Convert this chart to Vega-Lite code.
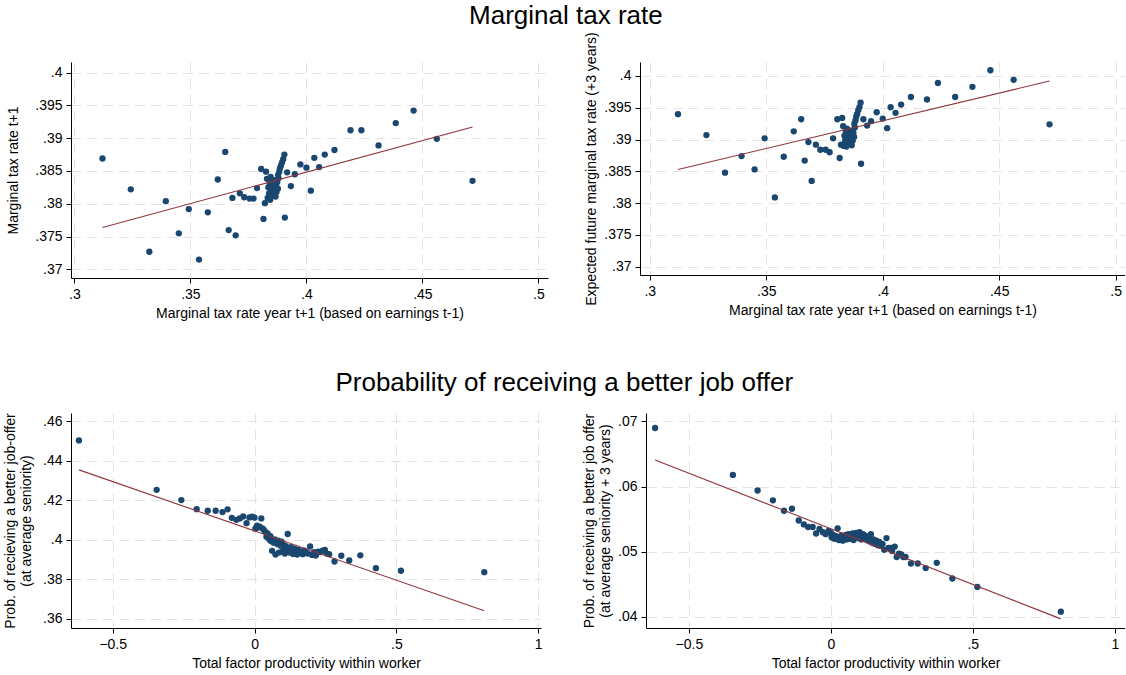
{
  "$schema": "https://vega.github.io/schema/vega-lite/v6.json",
  "background": "white",
  "padding": {"left": 3, "right": 0, "top": 2, "bottom": 2},
  "spacing": 49,
  "config": {
    "font": "Liberation Sans",
    "view": {"stroke": null},
    "axis": {
      "labelFontSize": 14,
      "titleFontSize": 14,
      "titleFontWeight": "normal",
      "labelColor": "#000",
      "titleColor": "#000",
      "domainColor": "#000",
      "domainWidth": 1,
      "tickColor": "#000",
      "tickSize": 5,
      "tickWidth": 1,
      "tickCount": 20,
      "gridColor": "#e4e4e4",
      "gridDash": [10, 6],
      "gridWidth": 1,
      "labelPadding": 4,
      "titlePadding": 5,
      "labelOverlap": false,
      "labelExpr": "replace(format(datum.value, '~g'), /^(-?)0\\./, '$1.')"
    },
    "title": {"fontSize": 26, "fontWeight": "normal", "color": "#000", "anchor": "middle"}
  },
  "datasets": {
    "tax": [
      {"x": 0.3121, "y1": 0.3869, "y2": 0.3940},
      {"x": 0.3243, "y1": 0.3822, "y2": 0.3907},
      {"x": 0.3323, "y1": 0.3727, "y2": 0.3848},
      {"x": 0.3394, "y1": 0.3804, "y2": 0.3874},
      {"x": 0.3450, "y1": 0.3755, "y2": 0.3853},
      {"x": 0.3493, "y1": 0.3792, "y2": 0.3902},
      {"x": 0.3537, "y1": 0.3715, "y2": 0.3809},
      {"x": 0.3575, "y1": 0.3787, "y2": 0.3873},
      {"x": 0.3618, "y1": 0.3837, "y2": 0.3913},
      {"x": 0.3650, "y1": 0.3879, "y2": 0.3932},
      {"x": 0.3665, "y1": 0.3760, "y2": 0.3867},
      {"x": 0.3681, "y1": 0.3809, "y2": 0.3896},
      {"x": 0.3695, "y1": 0.3752, "y2": 0.3835},
      {"x": 0.3713, "y1": 0.3816, "y2": 0.3892},
      {"x": 0.3732, "y1": 0.3810, "y2": 0.3884},
      {"x": 0.3755, "y1": 0.3808, "y2": 0.3884},
      {"x": 0.3772, "y1": 0.3808, "y2": 0.3880},
      {"x": 0.3787, "y1": 0.3824, "y2": 0.3902},
      {"x": 0.3805, "y1": 0.3853, "y2": 0.3932},
      {"x": 0.3815, "y1": 0.3777, "y2": 0.3871},
      {"x": 0.3821, "y1": 0.3801, "y2": 0.3892},
      {"x": 0.3826, "y1": 0.3849, "y2": 0.3934},
      {"x": 0.3830, "y1": 0.3838, "y2": 0.3921},
      {"x": 0.3833, "y1": 0.3809, "y2": 0.3890},
      {"x": 0.3836, "y1": 0.3825, "y2": 0.3906},
      {"x": 0.3839, "y1": 0.3816, "y2": 0.3899},
      {"x": 0.3842, "y1": 0.3830, "y2": 0.3912},
      {"x": 0.3844, "y1": 0.3806, "y2": 0.3889},
      {"x": 0.3846, "y1": 0.3841, "y2": 0.3917},
      {"x": 0.3848, "y1": 0.3820, "y2": 0.3903},
      {"x": 0.3850, "y1": 0.3812, "y2": 0.3893},
      {"x": 0.3852, "y1": 0.3834, "y2": 0.3910},
      {"x": 0.3854, "y1": 0.3824, "y2": 0.3900},
      {"x": 0.3856, "y1": 0.3814, "y2": 0.3895},
      {"x": 0.3858, "y1": 0.3829, "y2": 0.3908},
      {"x": 0.3860, "y1": 0.3819, "y2": 0.3897},
      {"x": 0.3862, "y1": 0.3836, "y2": 0.3914},
      {"x": 0.3864, "y1": 0.3822, "y2": 0.3902},
      {"x": 0.3867, "y1": 0.3811, "y2": 0.3891},
      {"x": 0.3869, "y1": 0.3828, "y2": 0.3906},
      {"x": 0.3871, "y1": 0.3818, "y2": 0.3898},
      {"x": 0.3874, "y1": 0.3833, "y2": 0.3911},
      {"x": 0.3877, "y1": 0.3823, "y2": 0.3904},
      {"x": 0.3880, "y1": 0.3839, "y2": 0.3919},
      {"x": 0.3878, "y1": 0.3844, "y2": 0.3925},
      {"x": 0.3883, "y1": 0.3849, "y2": 0.3930},
      {"x": 0.3886, "y1": 0.3854, "y2": 0.3936},
      {"x": 0.3890, "y1": 0.3858, "y2": 0.3940},
      {"x": 0.3895, "y1": 0.3863, "y2": 0.3946},
      {"x": 0.3900, "y1": 0.3868, "y2": 0.3951},
      {"x": 0.3905, "y1": 0.3875, "y2": 0.3958},
      {"x": 0.3907, "y1": 0.3779, "y2": 0.3862},
      {"x": 0.3917, "y1": 0.3848, "y2": 0.3932},
      {"x": 0.3933, "y1": 0.3827, "y2": 0.3922},
      {"x": 0.3950, "y1": 0.3845, "y2": 0.3929},
      {"x": 0.3974, "y1": 0.3860, "y2": 0.3943},
      {"x": 0.4000, "y1": 0.3855, "y2": 0.3933},
      {"x": 0.4019, "y1": 0.3820, "y2": 0.3918},
      {"x": 0.4034, "y1": 0.3870, "y2": 0.3951},
      {"x": 0.4055, "y1": 0.3856, "y2": 0.3942},
      {"x": 0.4079, "y1": 0.3875, "y2": 0.3955},
      {"x": 0.4121, "y1": 0.3882, "y2": 0.3967},
      {"x": 0.4190, "y1": 0.3912, "y2": 0.3963},
      {"x": 0.4237, "y1": 0.3912, "y2": 0.3989},
      {"x": 0.4311, "y1": 0.3889, "y2": 0.3967},
      {"x": 0.4385, "y1": 0.3923, "y2": 0.3983},
      {"x": 0.4462, "y1": 0.3942, "y2": 0.4009},
      {"x": 0.4562, "y1": 0.3899, "y2": 0.3994},
      {"x": 0.4716, "y1": 0.3835, "y2": 0.3924}
    ],
    "tax_fit": [
      {"x": 0.3121, "y1": 0.3764, "y2": 0.3853},
      {"x": 0.4716, "y1": 0.3917, "y2": 0.3992}
    ],
    "tfp": [
      {"x": -0.619, "y3": 0.4503, "y4": 0.0690},
      {"x": -0.345, "y3": 0.4253, "y4": 0.0618},
      {"x": -0.258, "y3": 0.4201, "y4": 0.0594},
      {"x": -0.204, "y3": 0.4155, "y4": 0.0579},
      {"x": -0.165, "y3": 0.4147, "y4": 0.0563},
      {"x": -0.137, "y3": 0.4147, "y4": 0.0566},
      {"x": -0.113, "y3": 0.4140, "y4": 0.0548},
      {"x": -0.095, "y3": 0.4154, "y4": 0.0542},
      {"x": -0.080, "y3": 0.4111, "y4": 0.0538},
      {"x": -0.064, "y3": 0.4101, "y4": 0.0538},
      {"x": -0.052, "y3": 0.4108, "y4": 0.0528},
      {"x": -0.040, "y3": 0.4118, "y4": 0.0535},
      {"x": -0.028, "y3": 0.4084, "y4": 0.0530},
      {"x": -0.018, "y3": 0.4113, "y4": 0.0527},
      {"x": -0.008, "y3": 0.4117, "y4": 0.0532},
      {"x": 0.000, "y3": 0.4112, "y4": 0.0529},
      {"x": 0.003, "y3": 0.4056, "y4": 0.0522},
      {"x": 0.008, "y3": 0.4071, "y4": 0.0526},
      {"x": 0.012, "y3": 0.4062, "y4": 0.0520},
      {"x": 0.018, "y3": 0.4066, "y4": 0.0524},
      {"x": 0.024, "y3": 0.4108, "y4": 0.0536},
      {"x": 0.028, "y3": 0.4058, "y4": 0.0518},
      {"x": 0.033, "y3": 0.4050, "y4": 0.0522},
      {"x": 0.038, "y3": 0.4040, "y4": 0.0525},
      {"x": 0.042, "y3": 0.4015, "y4": 0.0517},
      {"x": 0.046, "y3": 0.4032, "y4": 0.0523},
      {"x": 0.050, "y3": 0.4008, "y4": 0.0521},
      {"x": 0.053, "y3": 0.4000, "y4": 0.0526},
      {"x": 0.056, "y3": 0.4018, "y4": 0.0519},
      {"x": 0.059, "y3": 0.3992, "y4": 0.0524},
      {"x": 0.062, "y3": 0.3944, "y4": 0.0527},
      {"x": 0.065, "y3": 0.3998, "y4": 0.0522},
      {"x": 0.068, "y3": 0.3985, "y4": 0.0520},
      {"x": 0.071, "y3": 0.4002, "y4": 0.0525},
      {"x": 0.074, "y3": 0.3925, "y4": 0.0523},
      {"x": 0.077, "y3": 0.3990, "y4": 0.0528},
      {"x": 0.080, "y3": 0.3978, "y4": 0.0518},
      {"x": 0.083, "y3": 0.3996, "y4": 0.0526},
      {"x": 0.086, "y3": 0.3935, "y4": 0.0522},
      {"x": 0.089, "y3": 0.3982, "y4": 0.0529},
      {"x": 0.092, "y3": 0.3970, "y4": 0.0524},
      {"x": 0.095, "y3": 0.3990, "y4": 0.0527},
      {"x": 0.098, "y3": 0.3940, "y4": 0.0521},
      {"x": 0.101, "y3": 0.3975, "y4": 0.0530},
      {"x": 0.104, "y3": 0.3962, "y4": 0.0525},
      {"x": 0.107, "y3": 0.3930, "y4": 0.0519},
      {"x": 0.110, "y3": 0.3968, "y4": 0.0523},
      {"x": 0.113, "y3": 0.3950, "y4": 0.0527},
      {"x": 0.117, "y3": 0.4029, "y4": 0.0526},
      {"x": 0.120, "y3": 0.3958, "y4": 0.0521},
      {"x": 0.124, "y3": 0.3935, "y4": 0.0524},
      {"x": 0.128, "y3": 0.3962, "y4": 0.0518},
      {"x": 0.132, "y3": 0.3945, "y4": 0.0522},
      {"x": 0.136, "y3": 0.3928, "y4": 0.0516},
      {"x": 0.141, "y3": 0.3955, "y4": 0.0527},
      {"x": 0.145, "y3": 0.3940, "y4": 0.0514},
      {"x": 0.150, "y3": 0.3925, "y4": 0.0519},
      {"x": 0.155, "y3": 0.3948, "y4": 0.0512},
      {"x": 0.160, "y3": 0.3932, "y4": 0.0517},
      {"x": 0.165, "y3": 0.3940, "y4": 0.0510},
      {"x": 0.170, "y3": 0.3927, "y4": 0.0515},
      {"x": 0.176, "y3": 0.3945, "y4": 0.0509},
      {"x": 0.182, "y3": 0.3935, "y4": 0.0512},
      {"x": 0.188, "y3": 0.3930, "y4": 0.0503},
      {"x": 0.196, "y3": 0.3966, "y4": 0.0521},
      {"x": 0.203, "y3": 0.3923, "y4": 0.0506},
      {"x": 0.210, "y3": 0.3937, "y4": 0.0506},
      {"x": 0.216, "y3": 0.3920, "y4": 0.0501},
      {"x": 0.225, "y3": 0.3940, "y4": 0.0508},
      {"x": 0.232, "y3": 0.3937, "y4": 0.0492},
      {"x": 0.240, "y3": 0.3945, "y4": 0.0497},
      {"x": 0.248, "y3": 0.3948, "y4": 0.0496},
      {"x": 0.255, "y3": 0.3930, "y4": 0.0492},
      {"x": 0.263, "y3": 0.3927, "y4": 0.0492},
      {"x": 0.282, "y3": 0.3890, "y4": 0.0482},
      {"x": 0.306, "y3": 0.3919, "y4": 0.0482},
      {"x": 0.334, "y3": 0.3895, "y4": 0.0475},
      {"x": 0.373, "y3": 0.3921, "y4": 0.0483},
      {"x": 0.428, "y3": 0.3856, "y4": 0.0459},
      {"x": 0.516, "y3": 0.3843, "y4": 0.0446},
      {"x": 0.810, "y3": 0.3836, "y4": 0.0408}
    ],
    "tfp_fit": [
      {"x": -0.619, "y3": 0.4354, "y4": 0.0641},
      {"x": 0.810, "y3": 0.3640, "y4": 0.0397}
    ]
  },
  "vconcat": [
    {
      "title": {"text": "Marginal tax rate", "offset": 3},
      "bounds": "flush",
      "spacing": 92,
      "hconcat": [
        {
          "width": 477,
          "height": 216,
          "layer": [
            {
              "data": {"name": "tax"},
              "mark": {"type": "circle", "size": 40, "color": "#1a476f", "opacity": 1},
              "encoding": {
                "x": {"field": "x", "type": "quantitative",
                  "scale": {"domain": [0.29853, 0.50413], "nice": false, "zero": false},
                  "axis": {"values": [0.3, 0.35, 0.4, 0.45, 0.5], "tickCount": 20, "title": "Marginal tax rate year t+1 (based on earnings t-1)"}},
                "y": {"field": "y1", "type": "quantitative",
                  "scale": {"domain": [0.3687, 0.4016], "nice": false, "zero": false},
                  "axis": {"values": [0.37, 0.375, 0.38, 0.385, 0.39, 0.395, 0.4], "tickCount": 20, "labelOverlap": false, "titlePadding": 14, "title": "Marginal tax rate t+1"}}
              }
            },
            {
              "data": {"name": "tax_fit"},
              "mark": {"type": "line", "color": "#90353b", "strokeWidth": 1.1},
              "encoding": {
                "x": {"field": "x", "type": "quantitative"},
                "y": {"field": "y1", "type": "quantitative"}
              }
            }
          ]
        },
        {
          "width": 485,
          "height": 213,
          "layer": [
            {
              "data": {"name": "tax"},
              "mark": {"type": "circle", "size": 40, "color": "#1a476f", "opacity": 1},
              "encoding": {
                "x": {"field": "x", "type": "quantitative",
                  "scale": {"domain": [0.2958, 0.504], "nice": false, "zero": false},
                  "axis": {"values": [0.3, 0.35, 0.4, 0.45, 0.5], "tickCount": 20, "title": "Marginal tax rate year t+1 (based on earnings t-1)"}},
                "y": {"field": "y2", "type": "quantitative",
                  "scale": {"domain": [0.3687, 0.4022], "nice": false, "zero": false},
                  "axis": {"values": [0.37, 0.375, 0.38, 0.385, 0.39, 0.395, 0.4], "tickCount": 20, "labelOverlap": false, "title": "Expected future marginal tax rate (+3 years)"}}
              }
            },
            {
              "data": {"name": "tax_fit"},
              "mark": {"type": "line", "color": "#90353b", "strokeWidth": 1.1},
              "encoding": {
                "x": {"field": "x", "type": "quantitative"},
                "y": {"field": "y2", "type": "quantitative"}
              }
            }
          ]
        }
      ]
    },
    {
      "title": {"text": "Probability of receiving a better job offer", "offset": 17},
      "bounds": "flush",
      "spacing": 105,
      "hconcat": [
        {
          "width": 470,
          "height": 215,
          "layer": [
            {
              "data": {"name": "tfp"},
              "mark": {"type": "circle", "size": 40, "color": "#1a476f", "opacity": 1},
              "encoding": {
                "x": {"field": "x", "type": "quantitative",
                  "scale": {"domain": [-0.647, 1.01], "nice": false, "zero": false},
                  "axis": {"values": [-0.5, 0, 0.5, 1], "tickCount": 20, "title": "Total factor productivity within worker"}},
                "y": {"field": "y3", "type": "quantitative",
                  "scale": {"domain": [0.3553, 0.4642], "nice": false, "zero": false},
                  "axis": {"values": [0.36, 0.38, 0.4, 0.42, 0.44, 0.46], "tickCount": 20, "labelOverlap": false, "titlePadding": 9, "title": ["Prob. of recieving a better job-offer", "(at average seniority)"]}}
              }
            },
            {
              "data": {"name": "tfp_fit"},
              "mark": {"type": "line", "color": "#90353b", "strokeWidth": 1.1},
              "encoding": {
                "x": {"field": "x", "type": "quantitative"},
                "y": {"field": "y3", "type": "quantitative"}
              }
            }
          ]
        },
        {
          "width": 479,
          "height": 215,
          "layer": [
            {
              "data": {"name": "tfp"},
              "mark": {"type": "circle", "size": 40, "color": "#1a476f", "opacity": 1},
              "encoding": {
                "x": {"field": "x", "type": "quantitative",
                  "scale": {"domain": [-0.651, 1.036], "nice": false, "zero": false},
                  "axis": {"values": [-0.5, 0, 0.5, 1], "tickCount": 20, "title": "Total factor productivity within worker"}},
                "y": {"field": "y4", "type": "quantitative",
                  "scale": {"domain": [0.0383, 0.0713], "nice": false, "zero": false},
                  "axis": {"values": [0.04, 0.05, 0.06, 0.07], "tickCount": 20, "labelOverlap": false, "title": ["Prob. of receiving a better job offer", "(at average seniority + 3 years)"]}}
              }
            },
            {
              "data": {"name": "tfp_fit"},
              "mark": {"type": "line", "color": "#90353b", "strokeWidth": 1.1},
              "encoding": {
                "x": {"field": "x", "type": "quantitative"},
                "y": {"field": "y4", "type": "quantitative"}
              }
            }
          ]
        }
      ]
    }
  ]
}
